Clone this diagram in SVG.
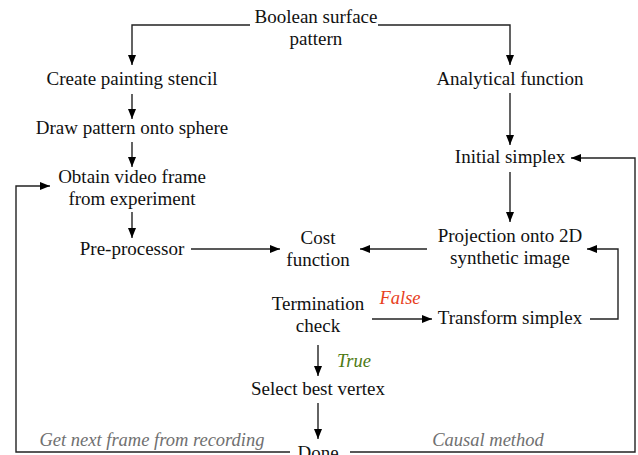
<svg xmlns="http://www.w3.org/2000/svg" width="638" height="455" viewBox="0 0 638 455">
<defs>
<marker id="ah" viewBox="0 0 10 8" refX="10" refY="4" markerWidth="10" markerHeight="8" markerUnits="userSpaceOnUse" orient="auto">
<path d="M0,0 L10,4 L0,8 z" fill="#000"/>
</marker>
<style>
text{font-family:"Liberation Serif","DejaVu Serif",serif;font-size:19px;fill:#111;text-anchor:middle}
.it{font-style:italic;font-size:18.5px}
.grey{fill:#707070}
.f{fill:#e8401c}
.t{fill:#4d7a14}
.c path{fill:none;stroke:#222;stroke-width:1.4}
.c path.a{marker-end:url(#ah)}
</style>
</defs>
<rect width="638" height="455" fill="#fff"/>
<g class="c" id="connectors">
<path class="a" d="M250,25 H132 V65"/>
<path class="a" d="M378,25 H510 V65"/>
<path class="a" d="M132,94 V119"/>
<path class="a" d="M132,142 V167"/>
<path class="a" d="M132,212 V238"/>
<path class="a" d="M191,249 H280"/>
<path class="a" d="M427,249 H360"/>
<path class="a" d="M510,93 V145"/>
<path class="a" d="M510,172 V222"/>
<path class="a" d="M290,452 H16 V186 H50"/>
<path class="a" d="M350,452 H635 V158 H571"/>
<path class="a" d="M590,319 H618 V249 H587"/>
<path class="a" d="M372,319 H432"/>
<path class="a" d="M318,345 V376"/>
<path class="a" d="M318,403 V439"/>
</g>
<g id="n-boolean"><text x="316" y="23">Boolean surface</text><text x="316" y="45">pattern</text></g>
<g id="n-stencil"><text x="132" y="85">Create painting stencil</text></g>
<g id="n-draw"><text x="132" y="134">Draw pattern onto sphere</text></g>
<g id="n-obtain"><text x="132" y="183">Obtain video frame</text><text x="132" y="205">from experiment</text></g>
<g id="n-pre"><text x="132" y="255">Pre-processor</text></g>
<g id="n-cost"><text x="318" y="244">Cost</text><text x="318" y="266">function</text></g>
<g id="n-analytical"><text x="510" y="85">Analytical function</text></g>
<g id="n-initial"><text x="510" y="163">Initial simplex</text></g>
<g id="n-projection"><text x="510" y="242">Projection onto 2D</text><text x="510" y="264">synthetic image</text></g>
<g id="n-term"><text x="318" y="310">Termination</text><text x="318" y="332">check</text></g>
<g id="n-transform"><text x="510" y="324">Transform simplex</text></g>
<g id="n-select"><text x="318" y="395">Select best vertex</text></g>
<g id="n-done"><text x="318" y="459">Done</text></g>
<g id="labels">
<text class="it f" x="400" y="304">False</text>
<text class="it t" x="354" y="367">True</text>
<text class="it grey" x="152" y="446">Get next frame from recording</text>
<text class="it grey" x="488" y="446">Causal method</text>
</g>
</svg>
